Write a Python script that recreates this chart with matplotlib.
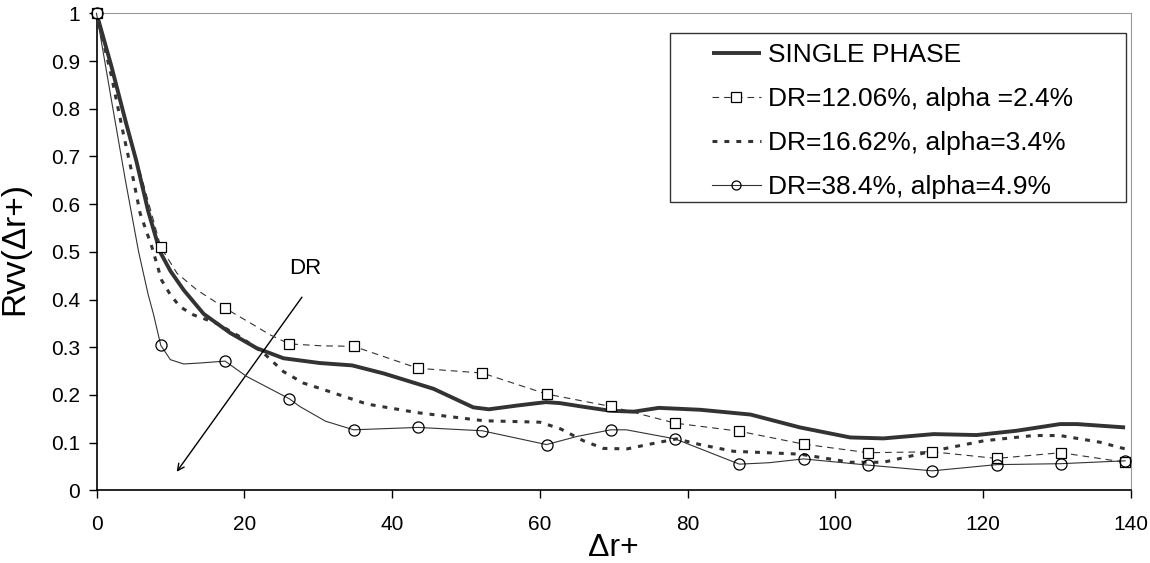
import matplotlib
matplotlib.use("Agg")
import matplotlib.pyplot as plt
from matplotlib.patches import Rectangle

plt.rcParams['font.family'] = ['Liberation Sans', 'DejaVu Sans']

# marker positions shared by the two marked series
marker_x = [0, 8.7, 17.4, 26.1, 34.8, 43.5, 52.2, 60.9, 69.6, 78.3, 87.0,
            95.7, 104.4, 113.1, 121.8, 130.5, 139.2]

# single phase
sp_x = [0, 2, 4, 5.4, 7, 8.6, 10, 11.8, 14.5, 18.1, 21.7, 25.3, 30.2, 34.6,
        38.9, 45.6, 51, 53.1, 57, 60.8, 62.7, 66, 69.5, 72.7, 76.1, 81.7,
        88.5, 95.2, 102, 106.5, 113.3, 119.1, 124.5, 130.4, 132.7, 139.2]
sp_y = [1.0, 0.89, 0.77, 0.69, 0.585, 0.50, 0.46, 0.42, 0.37, 0.33, 0.298,
        0.277, 0.267, 0.262, 0.245, 0.213, 0.174, 0.170, 0.178, 0.185, 0.183,
        0.175, 0.167, 0.165, 0.173, 0.169, 0.159, 0.132, 0.111, 0.109, 0.118,
        0.116, 0.125, 0.139, 0.139, 0.132]

# DR=12.06%
sq_x = [0, 8.7, 10.9, 13.6, 17.4, 20.8, 23.5, 26.1, 30.5, 34.8, 43.5, 52.2,
        60.9, 69.6, 78.3, 87.0, 95.7, 104.4, 113.1, 121.8, 130.5, 139.2]
sq_y = [1.0, 0.51, 0.455, 0.42, 0.382, 0.351, 0.326, 0.307, 0.303, 0.302,
        0.256, 0.246, 0.202, 0.176, 0.141, 0.124, 0.097, 0.079, 0.081, 0.067,
        0.079, 0.059]

# DR=16.62%
dt_x = [0, 2, 3.6, 5.0, 5.9, 7.5, 8.8, 10, 11.3, 13.1, 16.3, 19.4, 22.6, 25.3,
        28, 30.2, 36.6, 43.4, 52.4, 60, 62.8, 65.9, 68.6, 71.8, 74.9, 78.5,
        81.7, 86.2, 95.2, 102, 106.5, 113.3, 120.1, 126.8, 130.4, 135.8, 139.2]
dt_y = [1.0, 0.87, 0.75, 0.651, 0.581, 0.51, 0.441, 0.41, 0.385, 0.368, 0.35,
        0.322, 0.288, 0.249, 0.225, 0.214, 0.181, 0.163, 0.146, 0.143, 0.129,
        0.104, 0.088, 0.087, 0.097, 0.108, 0.096, 0.082, 0.076, 0.059, 0.059,
        0.083, 0.104, 0.115, 0.115, 0.101, 0.087]

# DR=38.4%
ci_x = [0, 2, 3.9, 5.7, 7.0, 7.7, 8.7, 10, 11.8, 14, 17.4, 20.3, 26.1, 27.5,
        31, 34.8, 43.5, 52.2, 60.9, 65, 69.6, 71.7, 78.3, 87.0, 91, 95.7,
        104.4, 113.1, 121.8, 130.5, 139.2]
ci_y = [1.0, 0.82, 0.651, 0.5, 0.41, 0.37, 0.304, 0.274, 0.265, 0.267, 0.271,
        0.239, 0.192, 0.176, 0.145, 0.127, 0.132, 0.125, 0.096, 0.113, 0.127,
        0.127, 0.108, 0.055, 0.058, 0.066, 0.053, 0.041, 0.054, 0.056, 0.062]

labels = ['SINGLE PHASE', 'DR=12.06%, alpha =2.4%',
          'DR=16.62%, alpha=3.4%', 'DR=38.4%, alpha=4.9%']

W, H = 1150, 563
fig = plt.figure(figsize=(W / 100, H / 100), dpi=100)
L, R, T, B = 96.5, 1131, 13.3, 490.4
ax = fig.add_axes([L / W, 1 - B / H, (R - L) / W, (B - T) / H])

sq_idx = [sq_x.index(v) for v in marker_x]
ci_idx = [ci_x.index(v) for v in marker_x]

h1, = ax.plot(sp_x, sp_y, color='#333333', lw=2.8, solid_capstyle='butt',
              zorder=3)
h2, = ax.plot(sq_x, sq_y, color='#333333', lw=0.8, linestyle=(0, (6, 4.5)),
              marker='s', markevery=sq_idx, ms=7.5, mfc='white', mec='black',
              mew=0.9, clip_on=False, zorder=4)
h3, = ax.plot(dt_x, dt_y, color='#333333', lw=2.2, linestyle=(0, (1.6, 2.3)),
              dash_capstyle='butt', zorder=3)
h4, = ax.plot(ci_x, ci_y, color='#333333', lw=0.8, marker='o',
              markevery=ci_idx, ms=8, mfc='none', mec='black', mew=0.9,
              clip_on=False, zorder=4)

ax.set_xlim(0, 140)
ax.set_ylim(0, 1)
ax.set_xticks(range(0, 141, 20))
ax.set_yticks([i / 10 for i in range(11)])
ax.set_yticklabels(['0'] + ['%.1f' % (i / 10) for i in range(1, 10)] + ['1'])
ax.tick_params(axis='both', direction='out', length=6, width=1,
               labelsize=15, colors='black')
ax.tick_params(axis='x', pad=12)
ax.tick_params(axis='y', pad=6)
ax.spines['top'].set_color('#999999')
ax.spines['right'].set_color('#999999')
ax.spines['left'].set_linewidth(1.2)
ax.spines['bottom'].set_linewidth(1.2)

ax.set_xlabel('\u0394r+', fontsize=23)
ax.xaxis.set_label_coords(0.5, (B - 533) / (B - T))
ax.set_ylabel('Rvv(\u0394r+)', fontsize=24)
ax.yaxis.set_label_coords((30 - L) / (R - L), 0.506)

# arrow showing increasing DR
ax.annotate('', xy=(10.85, 0.039), xytext=(27.8, 0.405),
            arrowprops=dict(arrowstyle='->', color='black', lw=1,
                            mutation_scale=12, shrinkA=0, shrinkB=0))
ax.text(28.2, 0.466, 'DR', fontsize=16, ha='center', va='center')

# legend box like the excel one
ax.add_patch(Rectangle((0.5544, 0.6045), 0.9952 - 0.5544, 0.9587 - 0.6045,
                       transform=ax.transAxes, fill=True, facecolor='white',
                       edgecolor='#333333', lw=1, zorder=5))
leg = ax.legend([h1, h2, h3, h4], labels, loc='upper left',
                bbox_to_anchor=((711.7 - L) / (R - L), (B - 43) / (B - T)),
                frameon=False, fontsize=19, borderpad=0, handlelength=1.86,
                handletextpad=0.27, labelspacing=0.76, borderaxespad=0)
leg.set_zorder(6)
for hd in leg.legend_handles:
    hd.set_markersize(6.5)

fig.savefig('out.png', dpi=100)
